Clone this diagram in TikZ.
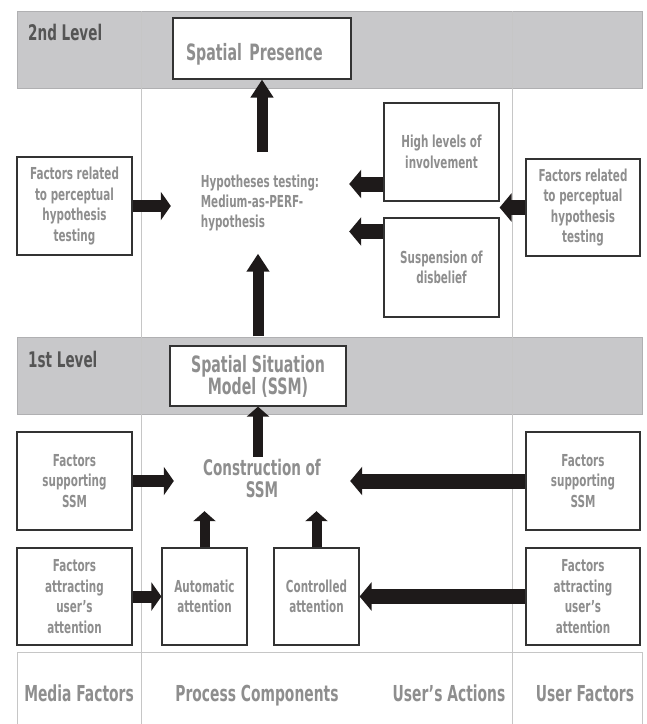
\documentclass[tikz,border=0pt]{standalone}
\usepackage{fontspec}
\setmainfont[FakeStretch=0.63]{DejaVu Sans}
\usetikzlibrary{arrows.meta,calc}

\definecolor{bandgray}{HTML}{C8C8CA}
\definecolor{bandline}{HTML}{B0B0B2}
\definecolor{guide}{HTML}{C6C6C6}
\definecolor{boxline}{HTML}{333333}
\definecolor{txtgray}{HTML}{8E8E8E}
\definecolor{lvltxt}{HTML}{555555}
\definecolor{arrblack}{HTML}{1E1A1A}

\begin{document}
\begin{tikzpicture}[x=1pt, y=-1pt,
  box/.style={draw=boxline, line width=1.2pt, fill=white, align=center, inner sep=2pt, text=txtgray, font=\fontsize{16.5}{20.5}\selectfont\bfseries},
  hub/.style={align=center, inner sep=0pt, text=txtgray},
  lvl/.style={anchor=base west, inner sep=0pt, text=lvltxt, font=\fontsize{21.5}{22}\selectfont\bfseries},
  foot/.style={anchor=base, inner sep=0pt, text=txtgray, font=\fontsize{22}{22}\selectfont\bfseries},
  rarr/.style={-{Triangle[length=10pt,width=28pt]}, line width=12pt, draw=arrblack},
  larr/.style={-{Triangle[length=12pt,width=28pt]}, line width=15pt, draw=arrblack},
  uarr/.style={-{Triangle[length=18pt,width=22pt]}, line width=11pt, draw=arrblack},
  sarr/.style={-{Triangle[length=10pt,width=22pt]}, line width=10pt, draw=arrblack}
]
\useasboundingbox (0,0) rectangle (647,724);

% level bands and column guides
\draw[bandline, fill=bandgray] (17,11) rectangle (642,88);
\draw[bandline, fill=bandgray] (17,337) rectangle (642,414);
\draw[guide] (141,11) -- (141,724);
\draw[guide] (512,11) -- (512,724);
\draw[guide] (17,724) |- (642,652) -- (642,724);

\node[lvl] (lvltwo) at (28,40) {2nd Level};
\node[lvl] (lvlone) at (28,367) {1st Level};

% 2nd level
\node[box, minimum width=178pt, minimum height=61pt, text width=152pt, text height=26pt, text depth=2pt, align=left, font=\fontsize{22.5}{22}\selectfont\bfseries] (sp) at (262,48.5) {Spatial Presence};
\node[hub, align=left, minimum width=178pt, minimum height=101pt, font=\fontsize{16.5}{20}\selectfont\bfseries] (hyp) at (260,203)
  {Hypotheses testing:\\Medium-as-PERF-\\hypothesis};
\node[box, minimum width=115pt, minimum height=98pt] (fphl) at (74.5,206) {Factors related\\to perceptual\\hypothesis\\testing};
\node[box, minimum width=115pt, minimum height=98pt] (high) at (441.5,152) {High levels of\\involvement};
\node[box, minimum width=115pt, minimum height=99pt] (susp) at (441.5,267.5) {Suspension of\\disbelief};
\node[box, minimum width=114pt, minimum height=97pt] (fphr) at (583,207.5) {Factors related\\to perceptual\\hypothesis\\testing};

\coordinate (highport) at ($(high.west)+(0,32)$);
\coordinate (suspport) at ($(susp.west)+(0,-36)$);

\draw[uarr] (hyp.north -| sp) -- (sp.south);
\draw[rarr] (fphl) -- (fphl -| hyp.west);
\draw[larr] (highport) -- (highport -| hyp.east);
\draw[larr] (suspport) -- (suspport -| hyp.east);
\draw[larr] (fphr) -- (fphr -| high.east);

% 1st level
\node[box, minimum width=176pt, minimum height=60pt, font=\fontsize{22.5}{22}\selectfont\bfseries] (ssm) at (258,376) {Spatial Situation\\Model (SSM)};
\node[hub, minimum width=176pt, minimum height=66pt, font=\fontsize{21.5}{22}\selectfont\bfseries] (cons) at (262,478) {Construction of\\SSM};
\node[box, minimum width=115pt, minimum height=98pt] (fssl) at (74.5,481) {Factors\\supporting\\SSM};
\node[box, minimum width=114pt, minimum height=98pt] (fssr) at (583,481) {Factors\\supporting\\SSM};
\node[box, minimum width=115pt, minimum height=97pt] (fal) at (74.5,596.5) {Factors\\attracting\\user's\\attention};
\node[box, minimum width=85pt, minimum height=97pt] (autoatt) at (204.5,596.5) {Automatic\\attention};
\node[box, minimum width=85pt, minimum height=97pt] (ctrlatt) at (316.5,596.5) {Controlled\\attention};
\node[box, minimum width=114pt, minimum height=97pt] (far) at (583,596.5) {Factors\\attracting\\user’s\\attention};

\draw[uarr, shorten <=9pt] (ssm.north) -- (ssm.north |- hyp.south);
\draw[sarr, shorten <=-12pt] (cons.north -| ssm) -- (ssm.south);
\draw[rarr] (fssl) -- (fssl -| cons.west);
\draw[larr] (fssr) -- (fssr -| cons.east);
\draw[rarr] (fal) -- (autoatt);
\draw[larr] (far) -- (ctrlatt);
\draw[sarr] (autoatt) -- (autoatt |- cons.south);
\draw[sarr] (ctrlatt) -- (ctrlatt |- cons.south);

% column names
\node[foot] (media) at (79,701) {Media Factors};
\node[foot] (proc) at (257,701) {Process Components};
\node[foot] (acts) at (449,701) {User’s Actions};
\node[foot] (userf) at (585,701) {User Factors};
\end{tikzpicture}
\end{document}
